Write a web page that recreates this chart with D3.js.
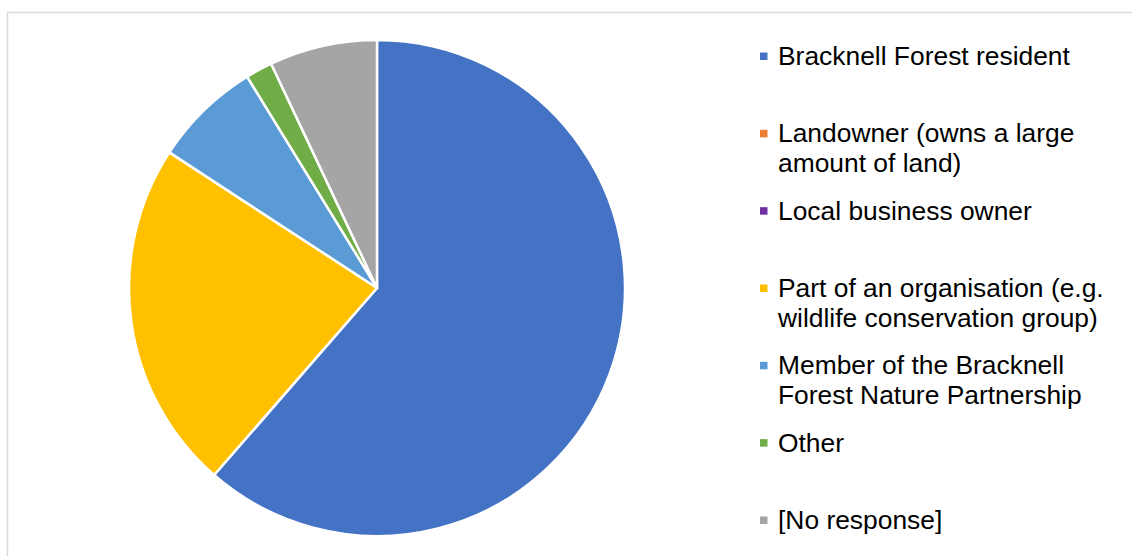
<!DOCTYPE html>
<html>
<head>
<meta charset="utf-8">
<script src="https://cdn.jsdelivr.net/npm/d3@7"></script>
<style>
  html, body { margin: 0; padding: 0; background: #fff; }
  svg { display: block; }
</style>
</head>
<body>
<svg id="chart" width="1132" height="556"></svg>
<script>
// Respondent types and counts
const categories = [
  "Bracknell Forest resident",
  "Landowner (owns a large amount of land)",
  "Local business owner",
  "Part of an organisation (e.g. wildlife conservation group)",
  "Member of the Bracknell Forest Nature Partnership",
  "Other",
  "[No response]"
];
const legendLines = [
  ["Bracknell Forest resident"],
  ["Landowner (owns a large", "amount of land)"],
  ["Local business owner"],
  ["Part of an organisation (e.g.", "wildlife conservation group)"],
  ["Member of the Bracknell", "Forest Nature Partnership"],
  ["Other"],
  ["[No response]"]
];
const counts = [35, 0, 0, 13, 4, 1, 4];
const colors = ["#4472C4", "#ED7D31", "#7030A0", "#FFC000", "#5B9BD5", "#70AD47", "#A5A5A5"];

const svg = d3.select("#chart");
const W = 1132, H = 556;

// chart area frame
svg.append("rect")
  .attr("x", 7.5).attr("y", 12.5)
  .attr("width", W + 10).attr("height", H + 10)
  .attr("fill", "#fff")
  .attr("stroke", "#d9d9d9")
  .attr("stroke-width", 1.5);

const data = categories.map((c, i) => ({ name: c, value: counts[i], color: colors[i] }));

const cx = 377, cy = 288, r = 248;
const pie = d3.pie().sort(null).value(d => d.value);
const arc = d3.arc().innerRadius(0).outerRadius(r);

svg.append("g")
  .attr("transform", `translate(${cx},${cy})`)
  .selectAll("path")
  .data(pie(data).filter(d => d.data.value > 0))
  .join("path")
  .attr("d", arc)
  .attr("fill", d => d.data.color)
  .attr("stroke", "#fff")
  .attr("stroke-width", 2.5)
  .attr("stroke-linejoin", "round");

// legend
const legendX = 760, textX = 778;
const firstBaseline = 65, rowStep = 77.33, lineGap = 30;
const legend = svg.append("g");
data.forEach((d, i) => {
  const base = firstBaseline + i * rowStep;
  legend.append("rect")
    .attr("x", legendX).attr("y", base - 12.5)
    .attr("width", 7.5).attr("height", 7.5)
    .attr("fill", d.color);
  const t = legend.append("text")
    .attr("x", textX).attr("y", base)
    .attr("font-family", "'Liberation Sans', Arial, sans-serif")
    .attr("font-size", 26.4)
    .attr("fill", "#000");
  legendLines[i].forEach((line, j) => {
    t.append("tspan").attr("x", textX).attr("y", base + j * lineGap).text(line);
  });
});
</script>
</body>
</html>
